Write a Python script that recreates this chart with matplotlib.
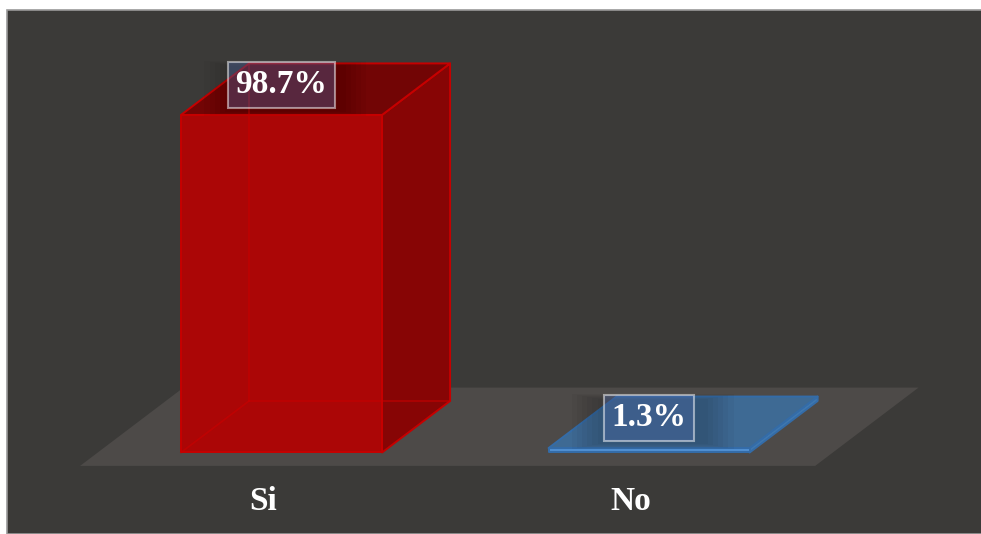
import numpy as np
import matplotlib
matplotlib.use("Agg")
import matplotlib.pyplot as plt
from matplotlib.patches import Polygon, Rectangle

CATEGORIES = ["Si", "No"]
VALUES = [98.7, 1.3]
VALUE_LABELS = ["98.7%", "1.3%"]

BG = "#3b3a38"
FLOOR = "#4d4a48"
BAR_STYLES = [
    # front, side, top, edge
    {"front": "#ab0606", "side": "#870505", "top": "#720505", "edge": "#c60000"},
    {"front": "#4f8ed0", "side": "#3f78b0", "top": "#3e6a94", "edge": "#346ca8"},
]

# oblique projection of the depth axis, in data units
DX, DY = 0.185, 15.06
BAR_W = 0.547
FLOOR_MARGIN = 0.26

plt.rcParams["font.family"] = ["Liberation Serif", "DejaVu Serif"]

fig = plt.figure(figsize=(9.81, 5.34), dpi=100, facecolor="white")
ax = fig.add_axes([0, 0, 1, 1])
ax.set_xlim(-0.766, 1.903)
ax.set_ylim(-23.83, 132.3)
ax.axis("off")
ax.patch.set_alpha(0)

# dark chart area with a thin grey frame
ax.add_patch(Rectangle((7 / 981, 0), 1, 1 - 10 / 534, transform=ax.transAxes,
                       facecolor=BG, edgecolor="#9a9a9a", lw=1.2, zorder=0))

# floor
m = FLOOR_MARGIN
floor = [(-0.5 - m * DX, -m * DY), (1.5 - m * DX, -m * DY),
         (1.5 + (1 + m) * DX, (1 + m) * DY), (-0.5 + (1 + m) * DX, (1 + m) * DY)]
ax.add_patch(Polygon(floor, closed=True, facecolor=FLOOR, edgecolor="none", zorder=1))


def bar3d(ax, xc, v, st, hidden=True):
    x0, x1 = xc - BAR_W / 2, xc + BAR_W / 2
    front = [(x0, 0), (x1, 0), (x1, v), (x0, v)]
    top = [(x0, v), (x1, v), (x1 + DX, v + DY), (x0 + DX, v + DY)]
    side = [(x1, 0), (x1 + DX, DY), (x1 + DX, v + DY), (x1, v)]
    ax.add_patch(Polygon(side, closed=True, facecolor=st["side"], edgecolor=st["edge"],
                         lw=1.4, zorder=2, joinstyle="round"))
    ax.add_patch(Polygon(top, closed=True, facecolor=st["top"], edgecolor=st["edge"],
                         lw=1.4, zorder=2, joinstyle="round"))
    ax.add_patch(Polygon(front, closed=True, facecolor=st["front"], edgecolor=st["edge"],
                         lw=1.4, zorder=3, joinstyle="round"))
    if hidden:
        # back edges showing through the translucent faces
        kw = dict(color="#c80000", lw=1.2, alpha=0.65, zorder=4)
        ax.plot([x0, x0 + DX], [0, DY], **kw)
        ax.plot([x0 + DX, x1 + DX], [DY, DY], **kw)
        ax.plot([x0 + DX, x0 + DX], [DY, v + DY], **kw)


for i, (v, st) in enumerate(zip(VALUES, BAR_STYLES)):
    bar3d(ax, i, v, st, hidden=v > 10)

# value labels sitting on the top faces, with a soft shadow underneath
LBL_OFFSET = 8.8
hw, hh = 0.15, 6.6
for i, v in enumerate(VALUES):
    cy = v + LBL_OFFSET - 1.0
    for k in range(6):
        grow = k * 0.014
        ax.add_patch(Rectangle((i + 0.01 - hw - grow, cy - hh - grow * 20),
                               2 * (hw + grow), 2 * (hh + grow * 20),
                               facecolor="black", edgecolor="none", alpha=0.03, zorder=5))

for i, (v, lab) in enumerate(zip(VALUES, VALUE_LABELS)):
    ax.text(i, v + LBL_OFFSET, lab, ha="center", va="center", fontsize=24,
            fontweight="bold", color="white", zorder=6,
            bbox=dict(boxstyle="square,pad=0.22", facecolor=(0.33, 0.44, 0.7, 0.35),
                      edgecolor=(1, 1, 1, 0.5), lw=1.5))

# category labels
for i, cat in enumerate(CATEGORIES):
    ax.text(i - 0.05, -14.2, cat, ha="center", va="center", fontsize=24,
            fontweight="bold", color="white", zorder=6)

fig.savefig("out.png", dpi=100, facecolor="white")
